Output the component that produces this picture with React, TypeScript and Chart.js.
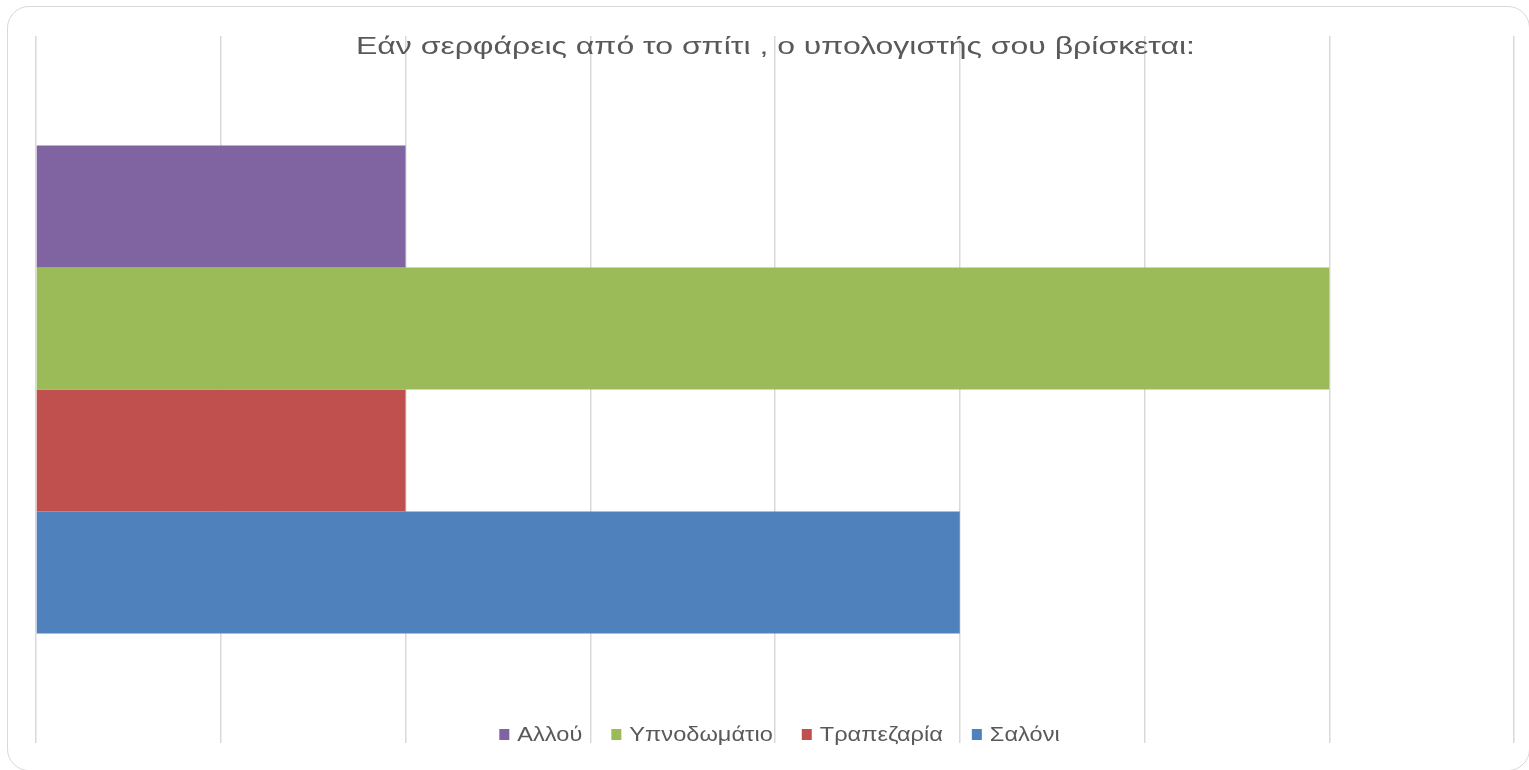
import React, { useEffect, useRef } from "react";
import { Chart, registerables } from "chart.js";

Chart.register(...registerables);

const titleText = "Εάν σερφάρεις από το σπίτι , ο υπολογιστής σου βρίσκεται:";
const categories = [""];
const seriesNames = ["Αλλού", "Υπνοδωμάτιο", "Τραπεζαρία", "Σαλόνι"];
const seriesValues = [[2], [7], [2], [5]];
const seriesColors = ["#8064A2", "#9BBB59", "#C0504D", "#4F81BD"];
const axisMin = 0;
const axisMax = 8;
const axisStep = 1;

const FONT = "'Liberation Sans', Arial, sans-serif";
const TEXT_COLOR = "#595959";

const overlayPlugin = {
  id: "overlayText",
  afterDraw(chart: any) {
    const { ctx, chartArea } = chart;
    const cx = (chartArea.left + chartArea.right) / 2;
    ctx.save();
    // title (horizontally stretched like the reference)
    ctx.fillStyle = TEXT_COLOR;
    ctx.font = `24px ${FONT}`;
    ctx.textBaseline = "middle";
    ctx.textAlign = "center";
    const tw = ctx.measureText(titleText).width;
    const tsx = 839 / tw;
    ctx.save();
    ctx.translate(cx + 0.5, 47);
    ctx.scale(tsx, 1);
    ctx.fillText(titleText, 0, 0);
    ctx.restore();

    // legend
    ctx.font = `20px ${FONT}`;
    ctx.textAlign = "left";
    const sx = 1.18;
    const boxW = 10;
    const boxH = 11;
    const gapBoxText = 8;
    const gapItems = 29;
    const items = chart.data.datasets.map((d: any) => ({
      label: d.label,
      color: d.backgroundColor,
      tw: ctx.measureText(d.label).width * sx,
    }));
    const total =
      items.reduce((s: number, it: any) => s + boxW + gapBoxText + it.tw, 0) +
      gapItems * (items.length - 1);
    let x = cx + 4.5 - total / 2;
    const y = 735;
    items.forEach((it: any) => {
      ctx.fillStyle = it.color;
      ctx.fillRect(x, y - boxH / 2 - 0.5, boxW, boxH);
      ctx.fillStyle = TEXT_COLOR;
      ctx.save();
      ctx.translate(x + boxW + gapBoxText, y);
      ctx.scale(sx, 1);
      ctx.fillText(it.label, 0, 0);
      ctx.restore();
      x += boxW + gapBoxText + it.tw + gapItems;
    });
    ctx.restore();
  },
};

export default function App() {
  const ref = useRef<HTMLCanvasElement | null>(null);

  useEffect(() => {
    if (!ref.current) return;
    const chart = new Chart(ref.current, {
      type: "bar",
      data: {
        labels: categories,
        datasets: seriesNames.map((name, i) => ({
          label: name,
          data: seriesValues[i],
          backgroundColor: seriesColors[i],
          borderWidth: 0,
          categoryPercentage: 0.69,
          barPercentage: 1,
        })),
      },
      options: {
        indexAxis: "y",
        animation: false,
        responsive: false,
        maintainAspectRatio: false,
        layout: { padding: { left: 36, right: 15, top: 36, bottom: 27 } },
        plugins: {
          legend: { display: false },
          title: { display: false },
          tooltip: { enabled: false },
        },
        scales: {
          x: {
            min: axisMin,
            max: axisMax,
            ticks: { display: false, stepSize: axisStep },
            grid: { color: "#d9d9d9", lineWidth: 1.5, drawTicks: false },
            border: { display: false },
          },
          y: {
            display: false,
          },
        },
      },
      plugins: [overlayPlugin],
    } as any);
    return () => chart.destroy();
  }, []);

  return (
    <div
      style={{
        position: "fixed",
        left: 0,
        top: 0,
        width: 1529,
        height: 770,
        overflow: "hidden",
        background: "#fff",
      }}
    >
      <div
        style={{
          position: "absolute",
          left: 7,
          top: 6,
          width: 1523,
          height: 765,
          border: "1.5px solid #d9d9d9",
          borderRadius: 22,
          boxSizing: "border-box",
        }}
      />
      <canvas
        ref={ref}
        width={1529}
        height={770}
        style={{ position: "absolute", left: 0, top: 0, width: 1529, height: 770 }}
      />
    </div>
  );
}
